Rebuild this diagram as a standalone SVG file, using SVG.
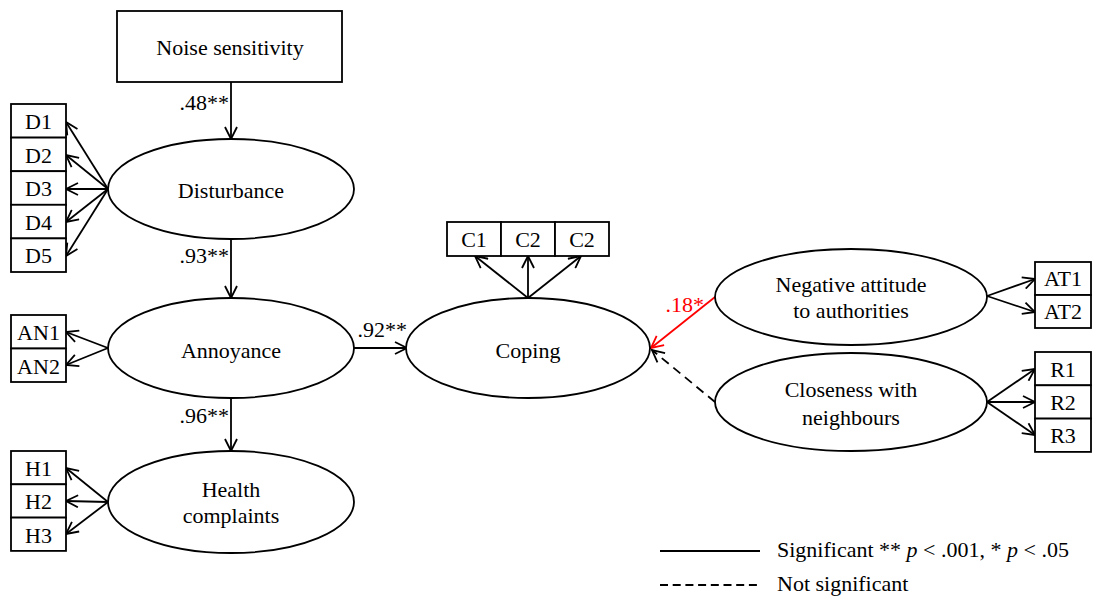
<svg xmlns="http://www.w3.org/2000/svg" width="1096" height="604" viewBox="0 0 1096 604">
<style>
.t{font-family:"Liberation Serif",serif;font-size:22px;fill:#000;text-anchor:middle}
.box,.ell{fill:#fff;stroke:#000;stroke-width:1.8}
.ln{stroke:#000;stroke-width:1.8;fill:none}
.red{stroke:#f00;stroke-width:1.8;fill:none}
.dash{stroke:#000;stroke-width:1.8;fill:none;stroke-dasharray:9 6}
.lbl{text-anchor:end}
</style>
<defs>
<marker id="ah" viewBox="0 0 14 14" refX="13" refY="7" markerWidth="14" markerHeight="14" markerUnits="userSpaceOnUse" orient="auto">
<path d="M1,1 L13,7 L1,13" fill="none" stroke="#000" stroke-width="1.8"/>
</marker>
<marker id="ahr" viewBox="0 0 14 14" refX="13" refY="7" markerWidth="14" markerHeight="14" markerUnits="userSpaceOnUse" orient="auto">
<path d="M1,1 L13,7 L1,13" fill="none" stroke="#f00" stroke-width="1.8"/>
</marker>
</defs>

<g id="connectors">
<line class="ln" x1="231" y1="82" x2="231" y2="139" marker-end="url(#ah)"/>
<line class="ln" x1="231" y1="239" x2="231" y2="298" marker-end="url(#ah)"/>
<line class="ln" x1="231" y1="398" x2="231" y2="451" marker-end="url(#ah)"/>
<line class="ln" x1="353" y1="348" x2="407" y2="348" marker-end="url(#ah)"/>
<line class="ln" x1="108" y1="189" x2="66" y2="122" marker-end="url(#ah)"/>
<line class="ln" x1="108" y1="189" x2="66" y2="155" marker-end="url(#ah)"/>
<line class="ln" x1="108" y1="189" x2="66" y2="189" marker-end="url(#ah)"/>
<line class="ln" x1="108" y1="189" x2="66" y2="222" marker-end="url(#ah)"/>
<line class="ln" x1="108" y1="189" x2="66" y2="256" marker-end="url(#ah)"/>
<line class="ln" x1="108" y1="348" x2="66" y2="332" marker-end="url(#ah)"/>
<line class="ln" x1="108" y1="348" x2="66" y2="365" marker-end="url(#ah)"/>
<line class="ln" x1="108" y1="502" x2="66" y2="468" marker-end="url(#ah)"/>
<line class="ln" x1="108" y1="502" x2="66" y2="501" marker-end="url(#ah)"/>
<line class="ln" x1="108" y1="502" x2="66" y2="534" marker-end="url(#ah)"/>
<line class="ln" x1="528" y1="298" x2="475" y2="256" marker-end="url(#ah)"/>
<line class="ln" x1="528" y1="298" x2="528" y2="256" marker-end="url(#ah)"/>
<line class="ln" x1="528" y1="298" x2="581" y2="256" marker-end="url(#ah)"/>
<line class="red" x1="715" y1="297" x2="651" y2="348" marker-end="url(#ahr)"/>
<line class="dash" x1="715" y1="402" x2="652" y2="350" marker-end="url(#ah)"/>
<line class="ln" x1="987" y1="296" x2="1035" y2="279" marker-end="url(#ah)"/>
<line class="ln" x1="987" y1="296" x2="1035" y2="312" marker-end="url(#ah)"/>
<line class="ln" x1="987" y1="402" x2="1035" y2="369" marker-end="url(#ah)"/>
<line class="ln" x1="987" y1="402" x2="1035" y2="402" marker-end="url(#ah)"/>
<line class="ln" x1="987" y1="402" x2="1035" y2="435" marker-end="url(#ah)"/>
<text class="t lbl" font-family="Liberation Serif" x="229" y="110">.48**</text>
<text class="t lbl" font-family="Liberation Serif" x="229" y="263">.93**</text>
<text class="t lbl" font-family="Liberation Serif" x="229" y="423">.96**</text>
<text class="t lbl" font-family="Liberation Serif" x="407" y="337">.92**</text>
<text class="t lbl" font-family="Liberation Serif" x="704" y="312" fill="#f00" style="fill:#f00">.18*</text>
</g>

<g id="noise-sensitivity">
<rect class="box" x="117" y="11" width="225" height="71"/>
<text class="t" font-family="Liberation Serif" x="230" y="55">Noise sensitivity</text>
</g>
<g id="disturbance">
<ellipse class="ell" cx="231" cy="189" rx="123" ry="50"/>
<text class="t" font-family="Liberation Serif" x="231" y="198">Disturbance</text>
</g>
<g id="annoyance">
<ellipse class="ell" cx="231" cy="348" rx="123" ry="50"/>
<text class="t" font-family="Liberation Serif" x="231" y="358">Annoyance</text>
</g>
<g id="health-complaints">
<ellipse class="ell" cx="231" cy="502" rx="123" ry="51"/>
<text class="t" font-family="Liberation Serif" x="231" y="497">Health</text>
<text class="t" font-family="Liberation Serif" x="231" y="523">complaints</text>
</g>
<g id="coping">
<ellipse class="ell" cx="528" cy="348" rx="122" ry="50"/>
<text class="t" font-family="Liberation Serif" x="528" y="358">Coping</text>
</g>
<g id="negative-attitude">
<ellipse class="ell" cx="851" cy="297" rx="136" ry="48"/>
<text class="t" font-family="Liberation Serif" x="851" y="292">Negative attitude</text>
<text class="t" font-family="Liberation Serif" x="851" y="318">to authorities</text>
</g>
<g id="closeness">
<ellipse class="ell" cx="851" cy="402" rx="136" ry="49"/>
<text class="t" font-family="Liberation Serif" x="851" y="397">Closeness with</text>
<text class="t" font-family="Liberation Serif" x="851" y="425">neighbours</text>
</g>

<g id="D-items">
<rect class="box" x="11" y="104" width="55" height="33.6"/>
<rect class="box" x="11" y="137.6" width="55" height="33.6"/>
<rect class="box" x="11" y="171.2" width="55" height="33.6"/>
<rect class="box" x="11" y="204.8" width="55" height="33.6"/>
<rect class="box" x="11" y="238.4" width="55" height="33.6"/>
<text class="t" font-family="Liberation Serif" x="38.5" y="129">D1</text>
<text class="t" font-family="Liberation Serif" x="38.5" y="162.5">D2</text>
<text class="t" font-family="Liberation Serif" x="38.5" y="196">D3</text>
<text class="t" font-family="Liberation Serif" x="38.5" y="229.5">D4</text>
<text class="t" font-family="Liberation Serif" x="38.5" y="263">D5</text>
</g>
<g id="AN-items">
<rect class="box" x="11" y="315" width="55" height="33.5"/>
<rect class="box" x="11" y="348.5" width="55" height="33.5"/>
<text class="t" font-family="Liberation Serif" x="38.5" y="340">AN1</text>
<text class="t" font-family="Liberation Serif" x="38.5" y="373.5">AN2</text>
</g>
<g id="H-items">
<rect class="box" x="11" y="451" width="55" height="33.3"/>
<rect class="box" x="11" y="484.3" width="55" height="33.3"/>
<rect class="box" x="11" y="517.6" width="55" height="33.3"/>
<text class="t" font-family="Liberation Serif" x="38.5" y="476">H1</text>
<text class="t" font-family="Liberation Serif" x="38.5" y="509">H2</text>
<text class="t" font-family="Liberation Serif" x="38.5" y="542.5">H3</text>
</g>
<g id="C-items">
<rect class="box" x="447" y="222" width="54" height="34"/>
<rect class="box" x="501" y="222" width="54" height="34"/>
<rect class="box" x="555" y="222" width="54" height="34"/>
<text class="t" font-family="Liberation Serif" x="474" y="247">C1</text>
<text class="t" font-family="Liberation Serif" x="528" y="247">C2</text>
<text class="t" font-family="Liberation Serif" x="582" y="247">C2</text>
</g>
<g id="AT-items">
<rect class="box" x="1035" y="262" width="56" height="33"/>
<rect class="box" x="1035" y="295" width="56" height="33"/>
<text class="t" font-family="Liberation Serif" x="1063" y="286">AT1</text>
<text class="t" font-family="Liberation Serif" x="1063" y="319">AT2</text>
</g>
<g id="R-items">
<rect class="box" x="1035" y="352" width="56" height="33.3"/>
<rect class="box" x="1035" y="385.3" width="56" height="33.3"/>
<rect class="box" x="1035" y="418.6" width="56" height="33.3"/>
<text class="t" font-family="Liberation Serif" x="1063" y="377">R1</text>
<text class="t" font-family="Liberation Serif" x="1063" y="410">R2</text>
<text class="t" font-family="Liberation Serif" x="1063" y="443">R3</text>
</g>

<g id="legend">
<line class="ln" x1="660" y1="551" x2="760" y2="551"/>
<line class="ln" x1="660" y1="585" x2="760" y2="585" style="stroke-dasharray:8 4.7"/>
<text class="t" font-family="Liberation Serif" x="777" y="557" style="text-anchor:start">Significant ** <tspan font-style="italic">p</tspan> &lt; .001, * <tspan font-style="italic">p</tspan> &lt; .05</text>
<text class="t" font-family="Liberation Serif" x="777" y="591" style="text-anchor:start">Not significant</text>
</g>
</svg>
